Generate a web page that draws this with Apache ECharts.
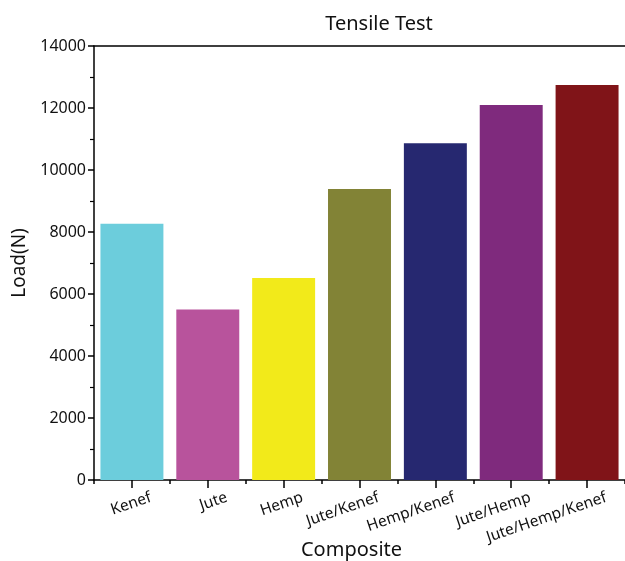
<!DOCTYPE html>
<html>
<head>
<meta charset="utf-8">
<script src="https://cdn.jsdelivr.net/npm/echarts@6/dist/echarts.min.js"></script>
<style>
  html, body { margin: 0; padding: 0; background: #fff; }
  #main { width: 625px; height: 561px; }
</style>
</head>
<body>
<div id="main"></div>
<script>
var composites = ['Kenef', 'Jute', 'Hemp', 'Jute/Kenef', 'Hemp/Kenef', 'Jute/Hemp', 'Jute/Hemp/Kenef'];
var loads = [8270, 5500, 6520, 9390, 10860, 12100, 12740];
var barColors = ['#6CCDDC', '#B8539C', '#F2EA1A', '#828336', '#262870', '#7F2A7D', '#801418'];

var font = 'Noto Sans';
var chart = echarts.init(document.getElementById('main'));

chart.setOption({
    animation: false,
    backgroundColor: '#fff',
    title: {
        text: 'Tensile Test',
        left: 374,
        top: 9,
        textAlign: 'center',
        textStyle: { fontFamily: font, fontSize: 20, fontWeight: 'normal', color: '#111' }
    },
    grid: [
        { left: 94, width: 531, top: 46, bottom: 81, outerBoundsMode: 'none' },
        // same plot shifted right, only used to place the rotated labels
        { left: 113, width: 531, top: 46, bottom: 81, outerBoundsMode: 'none' }
    ],
    xAxis: [
        {
            type: 'category',
            data: composites,
            name: 'Composite',
            nameLocation: 'middle',
            nameGap: 60,
            nameTextStyle: { fontFamily: font, fontSize: 20, color: '#111', padding: [0, 16, 0, 0] },
            axisLine: { lineStyle: { color: '#000', width: 1.5 } },
            axisTick: { show: true, alignWithLabel: true, interval: 0, length: 8, lineStyle: { color: '#000', width: 1.5 } },
            axisLabel: { show: false }
        },
        {
            // short ticks between categories
            type: 'value',
            min: 0,
            max: 7,
            interval: 1,
            position: 'bottom',
            axisLine: { show: false },
            axisTick: { show: true, length: 4, lineStyle: { color: '#000', width: 1.5 } },
            axisLabel: { show: false },
            splitLine: { show: false }
        },
        {
            // top frame line
            type: 'value',
            position: 'top',
            axisLine: { show: true, lineStyle: { color: '#000', width: 1.5 } },
            axisTick: { show: false },
            axisLabel: { show: false },
            splitLine: { show: false }
        },
        {
            gridIndex: 1,
            type: 'category',
            data: composites,
            axisLine: { show: false },
            axisTick: { show: false },
            axisLabel: {
                interval: 0,
                rotate: 19,
                margin: 17,
                fontFamily: font,
                fontSize: 15.5,
                color: '#111'
            }
        }
    ],
    yAxis: [
        {
            type: 'value',
            min: 0,
            max: 14000,
            interval: 2000,
            name: 'Load(N)',
            nameLocation: 'middle',
            nameGap: 59,
            nameTextStyle: { fontFamily: font, fontSize: 19, color: '#111' },
            axisLine: { show: true, lineStyle: { color: '#000', width: 1.5 } },
            axisTick: { show: true, length: 6, lineStyle: { color: '#000', width: 1.5 } },
            minorTick: { show: true, splitNumber: 2, length: 4, lineStyle: { color: '#000', width: 1.2 } },
            axisLabel: {
                margin: 8,
                fontFamily: font,
                fontSize: 16,
                color: '#111',
                formatter: function (v) { return String(v); }
            },
            splitLine: { show: false }
        },
        {
            gridIndex: 1,
            type: 'value',
            show: false
        }
    ],
    series: [
        {
            type: 'bar',
            xAxisIndex: 0,
            yAxisIndex: 0,
            barCategoryGap: '17%',
            data: loads.map(function (v, i) {
                return { value: v, itemStyle: { color: barColors[i] } };
            })
        }
    ]
});
</script>
</body>
</html>
